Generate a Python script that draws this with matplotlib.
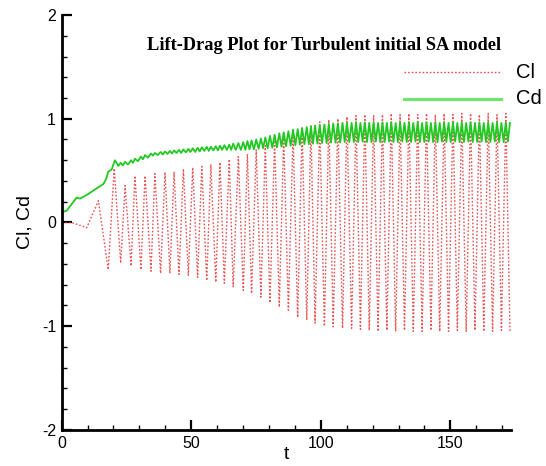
import matplotlib
matplotlib.use("Agg")
import matplotlib.pyplot as plt
from matplotlib.lines import Line2D
from matplotlib.ticker import MultipleLocator

# ---- data (t, value) ----
cl_points = [
    (0, 0.0), (3.9, 0.0), (9.7, -0.05), (14.2, 0.21),
    (18.0, -0.455), (20.3, 0.52), (22.8, -0.39), (24.5, 0.355), (26.8, -0.42),
    (28.3, 0.45), (30.6, -0.455), (32.2, 0.45), (34.5, -0.47), (36.0, 0.47),
    (38.2, -0.49), (39.9, 0.485), (41.8, -0.49), (43.4, 0.485), (45.3, -0.50),
    (47.0, 0.515), (48.9, -0.51), (50.6, 0.53), (52.5, -0.53), (54.1, 0.54),
    (56.0, -0.56), (57.6, 0.56), (59.5, -0.575), (61.1, 0.58), (62.8, -0.585),
    (64.7, 0.61), (66.2, -0.62), (68.2, 0.635), (70.1, -0.655), (71.7, 0.66),
    (73.3, -0.685), (75.1, 0.70), (76.9, -0.72), (78.6, 0.74), (80.4, -0.775),
    (82.2, 0.79), (84.0, -0.815), (85.7, 0.83), (87.5, -0.845), (89.3, 0.87),
    (91.1, -0.915), (92.8, 0.91), (94.6, -0.94), (96.2, 0.94), (97.8, -0.97),
    (99.6, 0.97), (101.4, -1.0), (103.1, 0.99), (104.8, -1.005), (106.6, 1.0),
    (108.4, -1.02), (110.1, 1.02), (111.9, -1.02), (113.6, 1.03), (115.3, -1.03),
    (117.0, 1.04), (118.7, -1.04), (120.4, 1.03), (122.1, -1.05), (123.8, 1.04),
    (125.5, -1.04), (127.2, 1.05), (128.9, -1.05), (130.6, 1.04), (132.3, -1.04),
    (134.0, 1.05), (135.7, -1.05), (137.4, 1.04), (139.1, -1.05), (140.8, 1.05),
    (142.5, -1.04), (144.2, 1.04), (145.9, -1.05), (147.6, 1.05), (149.3, -1.05),
    (151.0, 1.04), (152.7, -1.04), (154.4, 1.05), (156.1, -1.05), (157.8, 1.05),
    (159.5, -1.04), (161.2, 1.04), (162.9, -1.05), (164.6, 1.05), (166.3, -1.05),
    (168.0, 1.04), (169.7, -1.04), (171.4, 1.05), (173.0, -1.05),
]

cd_points = [
    (0, 0.10), (0.5, 0.10), (2.0, 0.115), (4.0, 0.18), (5.8, 0.24), (7.1, 0.23),
    (10.0, 0.27), (13.0, 0.32), (16.1, 0.37), (17.2, 0.42), (18.0, 0.49),
    (19.3, 0.51), (20.6, 0.60), (21.9, 0.545),
    (22.8, 0.575), (23.65, 0.55), (24.5, 0.585), (25.65, 0.56), (26.8, 0.60),
    (27.55, 0.575), (28.3, 0.615), (29.45, 0.59), (30.6, 0.635), (31.4, 0.61),
    (32.2, 0.65), (33.35, 0.625), (34.5, 0.665), (35.25, 0.645), (36.0, 0.67),
    (37.1, 0.65), (38.2, 0.68), (39.05, 0.655), (39.9, 0.685), (40.85, 0.66),
    (41.8, 0.69), (42.6, 0.665), (43.4, 0.695), (44.35, 0.67), (45.3, 0.70),
    (46.15, 0.67), (47.0, 0.705), (47.95, 0.675), (48.9, 0.71), (49.75, 0.68),
    (50.6, 0.715), (51.55, 0.68), (52.5, 0.72), (53.3, 0.685), (54.1, 0.725),
    (55.05, 0.69), (56.0, 0.73), (56.8, 0.69), (57.6, 0.73), (58.55, 0.695),
    (59.5, 0.735), (60.3, 0.695), (61.1, 0.74), (61.95, 0.70), (62.8, 0.745),
    (63.75, 0.70), (64.7, 0.75), (65.45, 0.70), (66.2, 0.76), (67.2, 0.70),
    (68.2, 0.765), (69.15, 0.70), (70.1, 0.775), (70.9, 0.70), (71.7, 0.785),
    (72.5, 0.705), (73.3, 0.79), (74.2, 0.705), (75.1, 0.80), (76.0, 0.71),
    (76.9, 0.81), (77.75, 0.715), (78.6, 0.82), (79.5, 0.715), (80.4, 0.835),
    (81.3, 0.72), (82.2, 0.845), (83.1, 0.725), (84.0, 0.86), (84.85, 0.73),
    (85.7, 0.87), (86.6, 0.735), (87.5, 0.88), (88.4, 0.74), (89.3, 0.895),
    (90.2, 0.745), (91.1, 0.90), (91.95, 0.75), (92.8, 0.91), (93.7, 0.755),
    (94.6, 0.92), (95.4, 0.755), (96.2, 0.925), (97.0, 0.76), (97.8, 0.935),
    (98.7, 0.76), (99.6, 0.94), (100.5, 0.765), (101.4, 0.945), (102.25, 0.765),
    (103.1, 0.95), (103.95, 0.77), (104.8, 0.955), (105.7, 0.77), (106.6, 0.955),
    (107.5, 0.77), (108.4, 0.96), (109.25, 0.775), (110.1, 0.96), (111.0, 0.775),
    (111.9, 0.96), (112.75, 0.775), (113.6, 0.965), (114.45, 0.775), (115.3, 0.96),
    (116.15, 0.78), (117.0, 0.965), (117.85, 0.775), (118.7, 0.96), (119.55, 0.775),
    (120.4, 0.965), (121.25, 0.78), (122.1, 0.96), (122.95, 0.775), (123.8, 0.965),
    (124.65, 0.775), (125.5, 0.96), (126.35, 0.78), (127.2, 0.965), (128.05, 0.775),
    (128.9, 0.96), (129.75, 0.775), (130.6, 0.965), (131.45, 0.78), (132.3, 0.96),
    (133.15, 0.775), (134.0, 0.965), (134.85, 0.775), (135.7, 0.96), (136.55, 0.78),
    (137.4, 0.965), (138.25, 0.775), (139.1, 0.96), (139.95, 0.775), (140.8, 0.965),
    (141.65, 0.78), (142.5, 0.96), (143.35, 0.775), (144.2, 0.965), (145.05, 0.775),
    (145.9, 0.96), (146.75, 0.78), (147.6, 0.965), (148.45, 0.775), (149.3, 0.96),
    (150.15, 0.775), (151.0, 0.965), (151.85, 0.78), (152.7, 0.96), (153.55, 0.775),
    (154.4, 0.965), (155.25, 0.775), (156.1, 0.96), (156.95, 0.78), (157.8, 0.965),
    (158.65, 0.775), (159.5, 0.96), (160.35, 0.775), (161.2, 0.965), (162.05, 0.78),
    (162.9, 0.96), (163.75, 0.775), (164.6, 0.965), (165.45, 0.775), (166.3, 0.96),
    (167.15, 0.78), (168.0, 0.965), (168.85, 0.775), (169.7, 0.96), (170.55, 0.775),
    (171.4, 0.965), (172.2, 0.78), (173.0, 0.96),
]

series_names = ["Cl", "Cd"]
title = "Lift-Drag Plot for Turbulent initial SA model"
x_ticks = [0, 50, 100, 150]
y_ticks = [-2, -1, 0, 1, 2]

cl_t = [p[0] for p in cl_points]
cl_v = [p[1] for p in cl_points]
cd_t = [p[0] for p in cd_points]
cd_v = [p[1] for p in cd_points]

plt.rcParams['font.family'] = ['Liberation Sans', 'DejaVu Sans']
plt.rcParams['axes.unicode_minus'] = False

fig = plt.figure(figsize=(5.46, 4.66), dpi=100)
ax = fig.add_axes([0.1128, 0.0773, 0.8231, 0.8905])

red = '#e83232'
green = '#22c822'
ax.plot(cl_t, cl_v, color=red, lw=1.0, ls=(0, (1.2, 1.4)), alpha=0.85)
ax.plot(cd_t, cd_v, color=green, lw=1.3)

ax.set_xlim(0, 173.4)
ax.set_ylim(-2, 2)
ax.set_xticks(x_ticks)
ax.set_yticks(y_ticks)
ax.xaxis.set_minor_locator(MultipleLocator(10))
ax.yaxis.set_minor_locator(MultipleLocator(0.2))
for s in ['top', 'right']:
    ax.spines[s].set_visible(False)
for s in ['left', 'bottom']:
    ax.spines[s].set_linewidth(2.0)
ax.tick_params(which='major', direction='in', length=7.5, width=1.6, labelsize=11.5, pad=4)
ax.tick_params(which='minor', direction='in', length=3.8, width=1.0)

ax.set_xlabel('t', fontsize=14, labelpad=-3)
ax.set_ylabel('Cl, Cd', fontsize=14, labelpad=6)

fig.text(0.593, 0.9034, title, family='Liberation Serif', fontweight='bold',
         fontsize=13.2, ha='center', va='center')

# legend
fig.add_artist(Line2D([0.740, 0.918], [0.8449, 0.8449], transform=fig.transFigure,
                      color=red, lw=1.0, ls=(0, (1.2, 1.4)), alpha=0.85))
fig.add_artist(Line2D([0.740, 0.918], [0.7882, 0.7882], transform=fig.transFigure,
                      color='#6ee66e', lw=2.2))
fig.text(0.945, 0.8449, series_names[0], fontsize=14.5, ha='left', va='center')
fig.text(0.945, 0.7882, series_names[1], fontsize=14.5, ha='left', va='center')

fig.savefig('out.png', dpi=100)
